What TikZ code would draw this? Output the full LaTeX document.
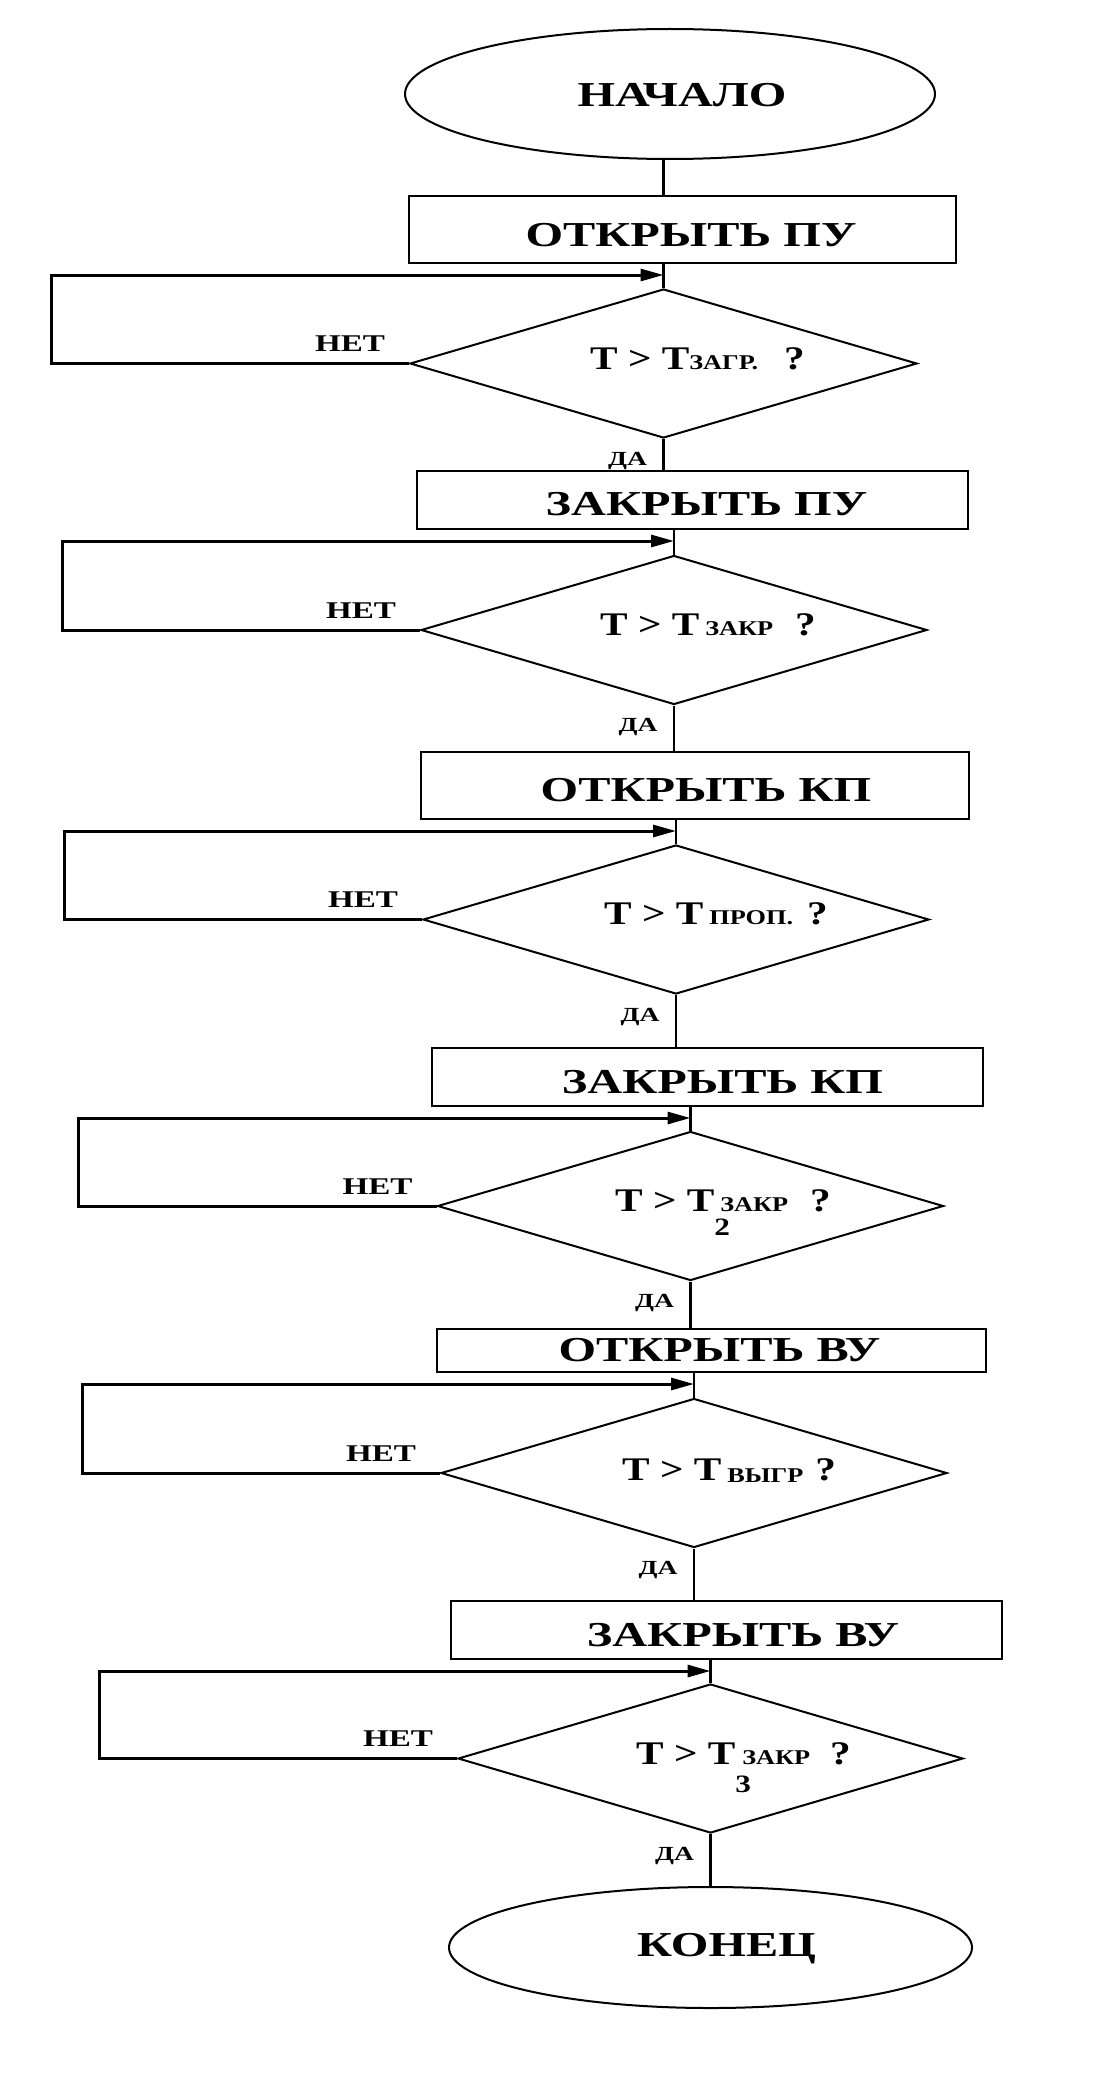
\documentclass[tikz,border=0pt]{standalone}
\usepackage{fontspec}
\setmainfont{Liberation Serif}
\newfontfamily\chartfont[FakeStretch=1.38]{Liberation Serif}
\newfontfamily\condfont[FakeStretch=1.25]{Liberation Serif}
\usepackage{tikz}
\usetikzlibrary{arrows.meta, calc, shapes.geometric, positioning}
\newcommand{\sub}[1]{{\fontsize{21}{21}\selectfont #1}}
\newcommand{\low}[2]{\rlap{\raisebox{-#1}{\fontsize{25}{25}\selectfont #2}}}
\tikzset{
	block/.style={draw, line width=2pt, rectangle, inner sep=0pt, minimum width=550pt},
	decision/.style={draw, line width=2pt, diamond, inner sep=0pt, minimum width=506pt, minimum height=149pt},
	terminal/.style={draw, line width=2pt, ellipse, inner sep=0pt},
	link/.style={line width=2.3pt},
	back/.style={line width=3pt, -{Triangle[length=23pt, width=12pt]}},
	bigtext/.style={font=\chartfont\bfseries\fontsize{35}{40}\selectfont, inner sep=0pt, anchor=base},
	condtext/.style={font=\condfont\bfseries\fontsize{33}{36}\selectfont, inner sep=0pt, anchor=base west},
	notext/.style={font=\chartfont\bfseries\fontsize{24}{26}\selectfont, inner sep=0pt, anchor=base},
	yestext/.style={font=\chartfont\bfseries\fontsize{20}{22}\selectfont, inner sep=0pt, anchor=base}
}
\begin{document}
\begin{tikzpicture}[x=1pt, y=-1pt]
	\path[use as bounding box, fill=white] (0,0) rectangle (1113,2074);
	% shapes
	\node[terminal, minimum width=530pt, minimum height=130pt] (start) at (670,94) {};
	\node[block, minimum width=547pt, minimum height=67pt] (b1) at (682.5,229.5) {};
	\node[decision, minimum width=507pt] (d1) at (663.5,363.5) {};
	\node[block, minimum width=551pt, minimum height=58pt] (b2) at (692.5,500) {};
	\node[decision] (d2) at (674,630) {};
	\node[block, minimum width=548pt, minimum height=67pt] (b3) at (695,785.5) {};
	\node[decision] (d3) at (676,919.5) {};
	\node[block, minimum width=551pt, minimum height=58pt] (b4) at (707.5,1077) {};
	\node[decision] (d4) at (690.5,1206) {};
	\node[block, minimum width=549pt, minimum height=43pt] (b5) at (711.5,1350.5) {};
	\node[decision] (d5) at (694,1473) {};
	\node[block, minimum width=551pt, minimum height=58pt] (b6) at (726.5,1630) {};
	\node[decision, minimum width=505pt] (d6) at (710.5,1758.5) {};
	\node[terminal, minimum width=523pt, minimum height=121pt] (end) at (710.5,1947.5) {};

	% texts
	\node[bigtext] (tstart) at (682,107) {НАЧАЛО};
	\node[bigtext] (t1) at (691,246) {ОТКРЫТЬ ПУ};
	\node[bigtext] (t2) at (706.5,515) {ЗАКРЫТЬ ПУ};
	\node[bigtext] (t3) at (706,801) {ОТКРЫТЬ КП};
	\node[bigtext] (t4) at (722.5,1093) {ЗАКРЫТЬ КП};
	\node[bigtext] (t5) at (719.5,1361) {ОТКРЫТЬ ВУ};
	\node[bigtext] (t6) at (743,1646) {ЗАКРЫТЬ ВУ};
	\node[bigtext] (tend) at (726.5,1956) {КОНЕЦ};
	\node[condtext] (c1) at (590,369) {Т > Т\sub{ЗАГР.}\hspace{26pt}?};
	\node[condtext] (c2) at (600,635) {Т > Т\hspace{6pt}\sub{ЗАКР}\hspace{22pt}?};
	\node[condtext] (c3) at (604,924) {Т > Т\hspace{6pt}\sub{ПРОП.}\hspace{14pt}?};
	\node[condtext] (c4) at (615,1211) {Т > Т\low{24pt}{2}\hspace{6pt}\sub{ЗАКР}\hspace{22pt}?};
	\node[condtext] (c5) at (622,1480) {Т > Т\hspace{6pt}\raisebox{-2pt}{\sub{ВЫГР}}\hspace{12pt}?};
	\node[condtext] (c6) at (636,1764) {Т > Т\low{28pt}{3}\hspace{7pt}\sub{ЗАКР}\hspace{20pt}?};

	% connectors
	\draw[link] (start.south -| d1.north) -- (b1.north -| d1.north);
	\foreach \i/\j in {1/2, 2/3, 3/4, 4/5, 5/6}{
		\draw[link] (d\i.south) -- (d\i.south |- b\j.north);
	}
	\draw[link] (d6.south) -- (d6.south |- end.north);
	\foreach \i in {1,...,6}{
		\path (b\i.south) ++(0,11) coordinate (m\i);
		\draw[link] (b\i.south -| d\i.north) -- (d\i.north);
		\draw[back] (d\i.west) -- ++(-358,0) |- (d\i.north |- m\i);
		\node[notext] (no\i) at ($(d\i.west)+(-59,-12)$) {НЕТ};
		\node[yestext] (yes\i) at ($(d\i.south)+(-36,26)$) {ДА};
	}
\end{tikzpicture}
\end{document}
